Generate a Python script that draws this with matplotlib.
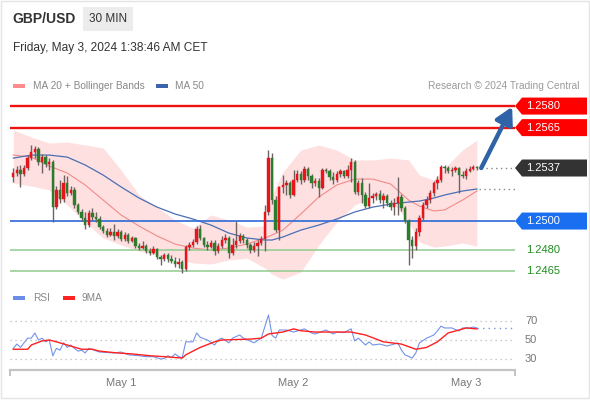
import numpy as np
import matplotlib
matplotlib.use("Agg")
import matplotlib.pyplot as plt
import matplotlib.patches as mpatches
import matplotlib.transforms as mtransforms

plt.rcParams["font.family"] = ["Liberation Sans", "DejaVu Sans"]

# ---- data (30 min GBP/USD, bar 0 = first visible bar) ----
OPEN0 = 1.25306
CLOSE = [1.25334, 1.25355, 1.25327, 1.25369, 1.25438, 1.25480, 1.25501, 1.25411, 1.25445, 1.25397,
         1.25411, 1.25097, 1.25216, 1.25153, 1.25264, 1.25195, 1.25216, 1.25111, 1.25063, 1.25021,
         1.24972, 1.25056, 1.25028, 1.25014, 1.24958, 1.24930, 1.24903, 1.24923, 1.24896, 1.24923,
         1.24875, 1.24903, 1.24861, 1.24882, 1.24826, 1.24812, 1.24826, 1.24791, 1.24777, 1.24805,
         1.24749, 1.24736, 1.24763, 1.24736, 1.24722, 1.24701, 1.24715, 1.24666, 1.24819, 1.24833,
         1.24854, 1.24944, 1.24882, 1.24833, 1.24819, 1.24847, 1.24791, 1.24826, 1.24868, 1.24882,
         1.24777, 1.24833, 1.24861, 1.24896, 1.24868, 1.24833, 1.24798, 1.24826, 1.24847, 1.24875,
         1.25063, 1.25438, 1.25146, 1.24937, 1.25237, 1.25251, 1.25264, 1.25181, 1.25285, 1.25327,
         1.25285, 1.25362, 1.25313, 1.25264, 1.25278, 1.25230, 1.25355, 1.25348, 1.25306, 1.25285,
         1.25327, 1.25348, 1.25313, 1.25355, 1.25411, 1.25202, 1.25264, 1.25181, 1.25104, 1.25160,
         1.25174, 1.25188, 1.25146, 1.25174, 1.25125, 1.25097, 1.25125, 1.25167, 1.25090, 1.25000,
         1.24868, 1.24826, 1.24923, 1.25021, 1.25111, 1.25146, 1.25195, 1.25264, 1.25285, 1.25376,
         1.25369, 1.25348, 1.25355, 1.25369, 1.25320, 1.25313, 1.25348, 1.25362, 1.25376, 1.25369]
HIGH = [1.25369, 1.25383, 1.25390, 1.25390, 1.25459, 1.25529, 1.25522, 1.25515, 1.25466, 1.25459,
        1.25438, 1.25425, 1.25244, 1.25285, 1.25320, 1.25313, 1.25244, 1.25237, 1.25125, 1.25084,
        1.25063, 1.25077, 1.25090, 1.25063, 1.25035, 1.24972, 1.24951, 1.24951, 1.24979, 1.24944,
        1.24937, 1.24923, 1.24916, 1.24896, 1.24889, 1.24847, 1.24861, 1.24840, 1.24812, 1.24826,
        1.24812, 1.24763, 1.24777, 1.24777, 1.24763, 1.24749, 1.24742, 1.24729, 1.24833, 1.24854,
        1.24875, 1.24965, 1.24972, 1.24889, 1.24861, 1.24868, 1.24868, 1.24847, 1.24896, 1.24910,
        1.24896, 1.24882, 1.25000, 1.24916, 1.24910, 1.24882, 1.24847, 1.24854, 1.24868, 1.24896,
        1.25111, 1.25494, 1.25473, 1.25174, 1.25244, 1.25320, 1.25285, 1.25278, 1.25355, 1.25355,
        1.25348, 1.25383, 1.25376, 1.25327, 1.25299, 1.25299, 1.25369, 1.25369, 1.25362, 1.25341,
        1.25348, 1.25362, 1.25355, 1.25390, 1.25438, 1.25425, 1.25285, 1.25299, 1.25202, 1.25264,
        1.25195, 1.25202, 1.25216, 1.25195, 1.25188, 1.25146, 1.25160, 1.25306, 1.25188, 1.25104,
        1.25014, 1.24896, 1.24951, 1.25042, 1.25132, 1.25174, 1.25216, 1.25278, 1.25313, 1.25390,
        1.25390, 1.25383, 1.25376, 1.25383, 1.25376, 1.25348, 1.25369, 1.25383, 1.25390, 1.25383]
LOW = [1.25271, 1.25313, 1.25237, 1.25313, 1.25355, 1.25425, 1.25438, 1.25390, 1.25334, 1.25376,
       1.25355, 1.24993, 1.25084, 1.25125, 1.25132, 1.25174, 1.25181, 1.25090, 1.25049, 1.25000,
       1.24944, 1.24958, 1.25007, 1.24993, 1.24944, 1.24916, 1.24889, 1.24896, 1.24868, 1.24882,
       1.24861, 1.24861, 1.24847, 1.24854, 1.24812, 1.24798, 1.24805, 1.24777, 1.24763, 1.24770,
       1.24736, 1.24694, 1.24722, 1.24715, 1.24708, 1.24680, 1.24673, 1.24638, 1.24652, 1.24798,
       1.24819, 1.24840, 1.24868, 1.24819, 1.24798, 1.24812, 1.24763, 1.24777, 1.24812, 1.24847,
       1.24742, 1.24763, 1.24812, 1.24847, 1.24847, 1.24812, 1.24777, 1.24784, 1.24756, 1.24833,
       1.24791, 1.25042, 1.25118, 1.24923, 1.24868, 1.25195, 1.25181, 1.25160, 1.25174, 1.25271,
       1.25258, 1.25271, 1.25285, 1.25230, 1.25244, 1.25167, 1.25223, 1.25334, 1.25285, 1.25258,
       1.25271, 1.25306, 1.25299, 1.25299, 1.25271, 1.25188, 1.25181, 1.25125, 1.25090, 1.25090,
       1.25125, 1.25146, 1.25125, 1.25090, 1.25104, 1.25077, 1.25042, 1.25042, 1.25070, 1.24986,
       1.24694, 1.24742, 1.24798, 1.24896, 1.25007, 1.25090, 1.25125, 1.25174, 1.25223, 1.25271,
       1.25334, 1.25334, 1.25313, 1.25341, 1.25195, 1.25299, 1.25292, 1.25341, 1.25355, 1.25355]

# indicator curves sampled at these bars
IND_IDX = [0, 5, 10, 15, 20, 25, 30, 35, 40, 45, 50, 55, 60, 65, 70, 72, 75, 80, 85, 90, 95,
           100, 105, 110, 113, 117, 120, 125, 129]
MA20 = [1.25459, 1.25445, 1.25383, 1.25334, 1.25251, 1.25146, 1.25042, 1.24965, 1.24896, 1.24840,
        1.24812, 1.24798, 1.24812, 1.24840, 1.24882, 1.24903, 1.24937, 1.25049, 1.25167, 1.25251,
        1.25292, 1.25292, 1.25258, 1.25146, 1.25104, 1.25070, 1.25077, 1.25146, 1.25209]
MA50 = [1.25438, 1.25459, 1.25459, 1.25445, 1.25390, 1.25320, 1.25237, 1.25160, 1.25097, 1.25049,
        1.25014, 1.24972, 1.24916, 1.24882, 1.24868, 1.24868, 1.24889, 1.24937, 1.24972, 1.25014,
        1.25063, 1.25097, 1.25118, 1.25132, 1.25139, 1.25160, 1.25181, 1.25209, 1.25223]
BB_UP = [1.25633, 1.25585, 1.25543, 1.25550, 1.25529, 1.25508, 1.25355, 1.25181, 1.25097, 1.25007,
         1.24951, 1.25042, 1.25007, 1.24958, 1.24965, 1.25181, 1.25341, 1.25494, 1.25529, 1.25494,
         1.25425, 1.25425, 1.25438, 1.25425, 1.25320, 1.25285, 1.25369, 1.25494, 1.25564]
BB_LO = [1.25264, 1.25244, 1.25216, 1.25111, 1.24993, 1.24882, 1.24833, 1.24791, 1.24763, 1.24742,
         1.24708, 1.24701, 1.24729, 1.24742, 1.24673, 1.24631, 1.24596, 1.24645, 1.24833, 1.24993,
         1.25111, 1.25167, 1.25146, 1.24993, 1.24854, 1.24819, 1.24826, 1.24847, 1.24826]

RSI_IDX = [0, 1, 2, 3, 4, 5, 6, 7, 8, 9, 10, 11, 12, 13, 14, 15, 16, 17, 18, 19, 20, 21,
           24, 28, 30, 32, 35, 37, 39, 41, 42, 43, 44, 45, 46, 47, 48,
           50, 51, 52, 54, 56, 57, 58, 60, 61, 63, 64, 67, 69,
           71, 72, 73, 74, 76, 78, 80, 81, 83, 84, 87, 89, 90, 92, 94, 95, 96, 98, 99, 100,
           102, 104, 106, 107, 108, 109, 111, 112, 113, 115, 117, 118, 119, 120, 122, 124, 125, 127, 128, 129]
RSI = [41, 45.6, 42, 47, 52, 52, 57.6, 50, 52, 48, 50, 33, 41, 39, 47, 42, 44.6, 41, 38, 39, 36, 41,
       37, 36, 37, 34, 33, 32, 32, 29.5, 30, 33, 31, 35, 32, 31, 48,
       48, 57.6, 53, 50, 44.6, 50, 52, 47, 52, 55.4, 52, 47, 52,
       77, 55, 52, 60.8, 60.8, 58.6, 60.8, 62, 57.6, 56.5, 60.8, 56.5, 58.6, 58, 62, 49, 52, 44.6, 48, 44.6,
       45.6, 43.5, 45.6, 46.8, 39, 34, 30.5, 36, 46.8, 52, 55.4, 59.7, 65, 63, 63, 59.7, 63, 63, 64, 63]
MA9_IDX = [0, 4, 5, 8, 10, 12, 15, 19, 22, 24, 29, 33, 38, 42, 47, 48, 52, 56, 58, 66,
           69, 71, 75, 78, 80, 84, 89, 94, 98, 103, 108, 112, 115, 118, 121, 124, 126, 129]
MA9 = [40, 40, 44.6, 49, 50, 48, 44.6, 40, 40, 38, 36, 35, 33, 32, 30.5, 34, 42, 48, 50, 51,
       52, 56.5, 58.6, 62, 60, 58.6, 58.6, 58.6, 55.4, 48, 45.6, 40, 42, 48, 57.6, 60.8, 63, 62]

RESIST = [1.2580, 1.2565]
PIVOT = 1.2500
SUPPORT = [1.2480, 1.2465]
RSI_LEVELS = [70, 50, 30]
DAY_IDX = [30, 78, 126]
DAY_LABELS = ["May 1", "May 2", "May 3"]

RED, GREEN = "#e8141c", "#2b7d2b"
W, H = 590, 400
XLIM = (-0.92, 139.6)
YLIM = (1.24555, 1.25877)

fig = plt.figure(figsize=(W / 100, H / 100), dpi=100)
fig.patch.set_facecolor("white")

# overlay in figure pixels for header / tags
ov = fig.add_axes([0, 0, 1, 1], zorder=0)
ov.set_xlim(0, W); ov.set_ylim(H, 0); ov.axis("off")
ov.add_patch(mpatches.Rectangle((0.5, 0.5), 588, 397, fill=False, ec="#e4e4e4", lw=1))

ov.text(12, 19, "GBP/USD", fontsize=10, fontweight="bold", color="#333333", va="center")
ov.add_patch(mpatches.Rectangle((83, 7), 50, 24, fc="#ececec", ec="none"))
ov.text(108, 19, "30 MIN", fontsize=8.5, color="#333333", va="center", ha="center")
ov.text(13, 48, "Friday, May 3, 2024 1:38:46 AM CET", fontsize=8.6, color="#333333", va="center")

ov.add_patch(mpatches.Rectangle((13, 84), 12, 4, fc="#ff8c8c", ec="none"))
ov.text(33, 86, "MA 20 + Bollinger Bands", fontsize=7.3, color="#888888", va="center")
ov.add_patch(mpatches.Rectangle((156, 84), 12, 4, fc="#3c64ab", ec="none"))
ov.text(175, 86, "MA 50", fontsize=7.3, color="#888888", va="center")
ov.text(580, 86, "Research \u00a9 2024 Trading Central", fontsize=7.3, color="#9a9a9a",
        va="center", ha="right")

ov.add_patch(mpatches.Rectangle((13, 296), 12, 4, fc="#6a8ee8", ec="none"))
ov.text(33, 298, "RSI", fontsize=7.3, color="#888888", va="center")
ov.add_patch(mpatches.Rectangle((63, 296), 12, 4, fc="#ff2222", ec="none"))
ov.text(82, 298, "9MA", fontsize=7.3, color="#888888", va="center")

# ---- price panel ----
ax = fig.add_axes([10 / W, 1 - 285 / H, 505 / W, 190 / H], zorder=1)
ax.patch.set_alpha(0)
ax.set_xlim(*XLIM); ax.set_ylim(*YLIM); ax.axis("off")

ax.fill_between(IND_IDX, BB_LO, BB_UP, color="#fee0e0", lw=0, zorder=1)
ax.plot(IND_IDX, MA20, color="#f28a8a", lw=0.8, zorder=2)
ax.plot(IND_IDX, MA50, color="#4a6fb5", lw=0.9, zorder=2)

for lv in RESIST:
    ax.axhline(lv, color="#ee1111", lw=1.7, zorder=2)
ax.axhline(PIVOT, color="#3b73d9", lw=1.3, zorder=2)
for lv in SUPPORT:
    ax.axhline(lv, color="#8fcc8f", lw=1.1, zorder=2)

idx = np.arange(len(CLOSE))
c = np.array(CLOSE)
o = np.concatenate([[OPEN0], c[:-1]])
cols = [RED if cc >= oo else GREEN for oo, cc in zip(o, c)]
ax.vlines(idx, LOW, HIGH, color="#6e6263", lw=1.0, zorder=3)
ax.bar(idx, np.maximum(np.abs(c - o), 0.00003), bottom=np.minimum(o, c), width=0.66,
       color=cols, edgecolor=cols, lw=0.3, zorder=4)

last = CLOSE[-1]
ax.plot([idx[-1] + 1.2, XLIM[1]], [last, last], color="#888888", lw=1, ls=(0, (1, 2.5)), zorder=2)
ax.plot([IND_IDX[-1] + 0.5, XLIM[1]], [MA50[-1], MA50[-1]], color="#888888", lw=1,
        ls=(0, (1, 2.5)), zorder=2)

ax.annotate("", xy=(138.8, RESIST[0] - 0.00005), xytext=(idx[-1] + 1.2, last),
            arrowprops=dict(arrowstyle="-|>,head_length=1.0,head_width=0.55", color="#2f62a6",
                            lw=3.2, shrinkA=0, shrinkB=0), annotation_clip=False, zorder=5)

# right side tags
tr = mtransforms.blended_transform_factory(ov.transData, ax.transData)
pp = (YLIM[1] - YLIM[0]) / 190.0
hh = 8.5 * pp


def tag(price, fc, label):
    verts = [(515, price), (522, price + hh), (587, price + hh), (587, price - hh), (522, price - hh)]
    ax.add_patch(mpatches.Polygon(verts, closed=True, fc=fc, ec="none", transform=tr,
                                  clip_on=False, zorder=6))
    ax.text(526, price, label, transform=tr, fontsize=8, color="white", va="center",
            clip_on=False, zorder=7)


for lv in RESIST:
    tag(lv, "#ff0000", f"{lv:.4f}")
tag(last, "#333333", f"{last:.4f}")
tag(PIVOT, "#1a6ff0", f"{PIVOT:.4f}")
for lv in SUPPORT:
    ax.text(526, lv, f"{lv:.4f}", transform=tr, fontsize=8, color="#1e8c1e", va="center",
            clip_on=False)

# ---- RSI panel ----
rax = fig.add_axes([10 / W, 1 - 370 / H, 505 / W, 70 / H], zorder=1)
rax.patch.set_alpha(0)
rax.set_xlim(*XLIM); rax.set_ylim(17.6, 93.2)
for s in ["top", "left", "right"]:
    rax.spines[s].set_visible(False)
rax.spines["bottom"].set_color("#c4c4c4"); rax.spines["bottom"].set_linewidth(1.6)
rax.set_xticks(list(XLIM)); rax.set_xticklabels([])
rax.tick_params(axis="x", direction="out", length=4, width=1.4, color="#c4c4c4")
rax.set_yticks([])

rtr = mtransforms.blended_transform_factory(ov.transData, rax.transData)
for lv in RSI_LEVELS:
    rax.axhline(lv, color="#bbbbbb", lw=0.9, ls=(0, (1, 3)))
    rax.text(525, lv, str(lv), transform=rtr, fontsize=8, color="#777777", va="center",
             clip_on=False)
rax.plot(RSI_IDX, RSI, color="#7393ea", lw=0.8, zorder=3)
rax.plot(MA9_IDX, MA9, color="#ff2020", lw=1.0, zorder=4)
rax.plot([RSI_IDX[-1], XLIM[1]], [RSI[-1], RSI[-1]], color="#7393ea", lw=1, ls=(0, (1, 3)))

dtr = mtransforms.blended_transform_factory(rax.transData, ov.transData)
for d, lab in zip(DAY_IDX, DAY_LABELS):
    rax.text(d, 383, lab, transform=dtr, fontsize=8, color="#777777", ha="center", va="center",
             clip_on=False)

fig.savefig("out.png", dpi=100)
